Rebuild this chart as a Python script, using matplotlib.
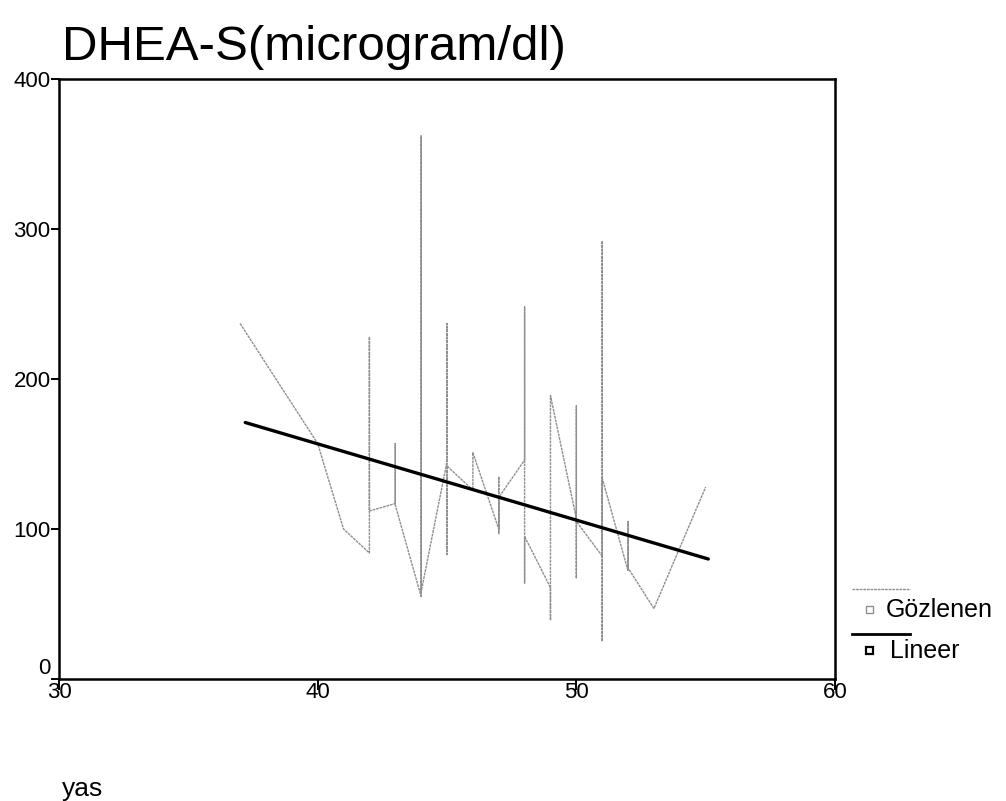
import matplotlib
matplotlib.use("Agg")
import matplotlib.pyplot as plt
from matplotlib.lines import Line2D
from matplotlib.patches import Rectangle

# ---- data ----
age = [37, 40, 41,
       42, 42, 42,
       43, 43, 43,
       44, 44, 44,
       45, 45, 45, 45,
       46, 46,
       47, 47, 47, 47,
       48, 48, 48, 48,
       49, 49, 49,
       50, 50, 50, 50,
       51, 51, 51, 51,
       52, 52, 52,
       53, 55]
dheas = [237, 157, 100,
         84, 228, 112,
         117, 157, 116,
         55, 362, 58,
         145, 237, 83, 142,
         126, 151,
         100, 135, 97, 121,
         146, 248, 64, 95,
         61, 39, 189,
         107, 182, 67, 105,
         82, 292, 25, 134,
         72, 105, 74,
         47, 128]
fit_x = [37.2, 55.1]
fit_y = [171, 80]

title = "DHEA-S(microgram/dl)"
xlabel = "yas"
legend_labels = ["Gözlenen", "Lineer"]
xticks = [30, 40, 50, 60]
yticks = [0, 100, 200, 300, 400]

plt.rcParams['font.family'] = ['Liberation Sans', 'DejaVu Sans']

fig = plt.figure(figsize=(10.06, 8.01), dpi=100)
W, H = 1006, 801
ax = fig.add_axes([59 / W, 1 - 679 / H, 776 / W, 600 / H])

ax.plot(age, dheas, color='#8f8f8f', lw=1.0, ls=(0, (2, 0.6)))
ax.plot(fit_x, fit_y, color='black', lw=2.4, solid_capstyle='round')

ax.set_xlim(30, 60)
ax.set_ylim(0, 400)
ax.set_xticks(xticks)
ax.set_yticks(yticks)
for s in ax.spines.values():
    s.set_linewidth(1.8)
ax.tick_params(axis='x', direction='out', length=8, width=1.4, pad=-6, labelsize=16)
ax.tick_params(axis='y', direction='out', length=6, width=1.4, pad=0, labelsize=16)
ylabs = ax.get_yticklabels()
ylabs[0].set_va('bottom')

fig.text(62 / W, 1 - 47 / H, title, fontsize=35.5, ha='left', va='center')
fig.text(62 / W, 1 - 789 / H, xlabel, fontsize=19, ha='left', va='center')

# legend (SPSS style: line sample above a small square and label)
fig.add_artist(Line2D([852 / W, 910 / W], [1 - 589 / H, 1 - 589 / H],
                      color='#8f8f8f', lw=1.0, ls=(0, (2, 0.6))))
fig.add_artist(Rectangle((866 / W, 1 - 613 / H), 7 / W, 7 / H, fill=False,
                         edgecolor='#8f8f8f', lw=1.0))
fig.text(886 / W, 1 - 610 / H, legend_labels[0], fontsize=18, ha='left', va='center')
fig.add_artist(Line2D([852 / W, 910 / W], [1 - 634 / H, 1 - 634 / H],
                      color='black', lw=2.0))
fig.add_artist(Rectangle((866 / W, 1 - 654 / H), 7 / W, 7 / H, fill=False,
                         edgecolor='black', lw=1.6))
fig.text(890 / W, 1 - 651 / H, legend_labels[1], fontsize=18, ha='left', va='center')

fig.savefig("out.png", dpi=100)
